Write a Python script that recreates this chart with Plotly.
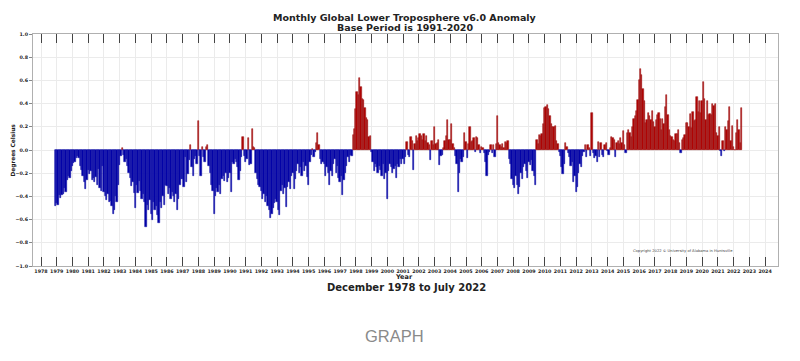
import plotly.graph_objects as go

# Monthly anomalies (deg C), starting December 1978
anom_1978_1989 = [
    -0.48,
    -0.46, -0.47, -0.39, -0.41, -0.39, -0.38, -0.33, -0.36, -0.26, -0.22, -0.24, -0.18,
    -0.14, -0.11, -0.10, -0.07, -0.05, -0.07, -0.14, -0.17, -0.22, -0.28, -0.34, -0.26,
    -0.17, -0.21, -0.18, -0.26, -0.24, -0.28, -0.23, -0.30, -0.16, -0.33, -0.35, -0.14,
    -0.36, -0.40, -0.43, -0.38, -0.45, -0.44, -0.48, -0.55, -0.52, -0.40, -0.45, -0.30,
    -0.13, -0.05, 0.02, -0.04, -0.10, -0.08, -0.14, -0.20, -0.24, -0.31, -0.28, -0.37,
    -0.50, -0.30, -0.37, -0.27, -0.35, -0.42, -0.38, -0.45, -0.66, -0.47, -0.52, -0.43,
    -0.55, -0.60, -0.45, -0.52, -0.48, -0.56, -0.63, -0.45, -0.50, -0.40, -0.47, -0.30,
    -0.31, -0.38, -0.33, -0.42, -0.36, -0.40, -0.45, -0.38, -0.52, -0.42, -0.30, -0.25,
    -0.25, -0.32, -0.06, -0.28, -0.21, -0.09, 0.04, -0.15, -0.22, -0.08, -0.05, -0.12,
    0.25, -0.05, -0.22, 0.03, -0.06, -0.10, 0.03, 0.04, -0.14, -0.20, -0.30, -0.35,
    -0.55, -0.40, -0.33, -0.36, -0.30, -0.38, -0.25, -0.22, -0.27, -0.20, -0.28, -0.24,
]
anom_1990_1999 = [
    -0.20, -0.36, -0.10, -0.12, -0.08, -0.10, -0.15, -0.26, -0.18, -0.06, 0.11, -0.05,
    -0.10, -0.08, 0.10, -0.13, -0.12, 0.18, 0.03, 0.02, -0.20, -0.25, -0.30, -0.32,
    -0.35, -0.42, -0.38, -0.45, -0.40, -0.48, -0.52, -0.59, -0.55, -0.50, -0.46, -0.42,
    -0.45, -0.52, -0.56, -0.35, -0.30, -0.38, -0.33, -0.49, -0.32, -0.28, -0.34, -0.22,
    -0.20, -0.34, -0.25, -0.18, -0.12, -0.20, -0.15, -0.22, -0.10, -0.18, -0.14, -0.23,
    -0.30, -0.10, -0.04, 0.01, -0.06, -0.02, 0.06, 0.15, 0.04, -0.08, -0.12, -0.10,
    -0.12, -0.22, -0.15, -0.20, -0.30, -0.18, -0.22, -0.12, -0.08, -0.20, -0.14, -0.24,
    -0.28, -0.22, -0.39, -0.26, -0.20, -0.14, -0.06, -0.10, -0.04, -0.05, 0.13, 0.18,
    0.35, 0.50, 0.47, 0.62, 0.54, 0.44, 0.43, 0.36, 0.28, 0.26, 0.11, 0.12,
    -0.02, -0.10, -0.18, -0.12, -0.15, -0.20, -0.14, -0.17, -0.22, -0.12, -0.25, -0.20,
]
anom_2000_2009 = [
    -0.42, -0.18, -0.12, -0.15, -0.20, -0.16, -0.14, -0.24, -0.12, -0.15, -0.08, -0.12,
    -0.08, -0.12, -0.06, 0.07, -0.04, -0.06, 0.11, 0.08, -0.17, 0.05, 0.12, 0.08,
    0.10, 0.14, 0.12, 0.09, 0.14, 0.08, 0.12, 0.06, 0.04, -0.09, 0.08, 0.04,
    0.20, 0.05, 0.06, 0.09, -0.13, -0.05, -0.04, 0.02, 0.08, 0.12, 0.26, 0.09,
    0.09, 0.22, 0.05, 0.02, -0.05, -0.12, -0.36, -0.20, -0.08, -0.10, -0.06, 0.15,
    0.07, -0.07, 0.05, 0.20, 0.07, 0.08, 0.10, -0.02, 0.11, 0.10, 0.04, -0.03,
    0.03, 0.02, -0.03, -0.10, -0.22, -0.04, -0.02, 0.04, -0.03, 0.04, -0.06, 0.05,
    0.29, 0.06, 0.04, 0.03, 0.05, 0.02, 0.07, 0.06, 0.08, -0.08, -0.12, -0.25,
    -0.30, -0.33, -0.22, -0.30, -0.38, -0.32, -0.20, -0.25, -0.15, -0.12, -0.18, -0.24,
    -0.10, -0.13, -0.09, -0.18, -0.22, -0.30, 0.09, 0.05, 0.13, 0.12, 0.14, 0.22,
]
anom_2010_2022 = [
    0.36, 0.37, 0.39, 0.35, 0.29, 0.22, 0.20, 0.20, 0.21, 0.08, 0.05, -0.02,
    -0.05, -0.15, -0.21, -0.12, 0.06, 0.03, -0.03, -0.06, -0.14, -0.10, -0.28, -0.22,
    -0.36, -0.32, -0.20, -0.12, -0.15, -0.05, -0.02, 0.04, -0.06, 0.04, 0.02, -0.05,
    0.32, -0.03, -0.07, -0.05, -0.10, 0.07, -0.06, 0.06, -0.04, -0.06, 0.04, 0.06,
    -0.01, -0.04, 0.02, 0.11, 0.10, 0.09, -0.06, 0.06, 0.08, 0.05, 0.10, 0.06,
    0.16, 0.04, -0.03, 0.15, 0.17, 0.15, 0.11, 0.20, 0.27, 0.29, 0.34, 0.43,
    0.60, 0.70, 0.65, 0.53, 0.42, 0.23, 0.26, 0.32, 0.29, 0.26, 0.34, 0.24,
    0.20, 0.26, 0.30, 0.32, 0.27, 0.17, 0.27, 0.22, 0.37, 0.47, 0.30, 0.17,
    0.12, 0.11, 0.09, 0.08, 0.14, 0.14, 0.17, 0.06, -0.03, 0.09, 0.10, 0.13,
    0.23, 0.23, 0.20, 0.31, 0.19, 0.33, 0.25, 0.26, 0.46, 0.33, 0.42, 0.32,
    0.42, 0.59, 0.44, 0.26, 0.42, 0.30, 0.31, 0.30, 0.40, 0.38, 0.40, 0.15,
    0.12, 0.20, -0.01, -0.05, 0.08, -0.01, 0.20, 0.17, 0.25, 0.37, 0.08, 0.21,
    0.03, 0.00, 0.15, 0.26, 0.17, 0.06, 0.36,
]

start_year = 1978
start_month = 12
year_ticks = list(range(1978, 2025))
y_ticks = [-1.0, -0.8, -0.6, -0.4, -0.2, 0.0, 0.2, 0.4, 0.6, 0.8, 1.0]

values = anom_1978_1989 + anom_1990_1999 + anom_2000_2009 + anom_2010_2022
times = [start_year + (start_month - 1 + i) / 12.0 for i in range(len(values))]
fill = ["#b00000" if v >= 0 else "#0000a8" for v in values]
edge = ["#a02020" if v >= 0 else "#1515a8" for v in values]

fig = go.Figure()
fig.add_trace(go.Bar(
    x=times, y=values, width=1 / 12.0,
    marker=dict(color=fill, line=dict(color=edge, width=0.6)),
    showlegend=False, hoverinfo="x+y",
))

# page offset of the plot div (browser default body margin)
OFF = 8
W, H = 800 - OFF, 361 - OFF
# plot area in page pixels: x 33..778, y 34..266
L, T = 33 - OFF, 34 - OFF
pw, ph = 745, 232
R = W - L - pw
B = H - T - ph


def px(x):
    return (x - OFF - L) / pw


def py(y):
    return (T + ph - (y - OFF)) / ph


fig.update_layout(
    width=W, height=H,
    margin=dict(l=L, r=R, t=T, b=B, autoexpand=False),
    paper_bgcolor="white", plot_bgcolor="white",
    bargap=0,
    font=dict(family="DejaVu Sans", color="#222"),
)
fig.update_xaxes(
    range=[1977.49, 2024.82],
    tickmode="array", tickvals=year_ticks, ticktext=[str(y) for y in year_ticks],
    tickfont=dict(size=4.8, weight="bold", color="#222"), tickangle=0,
    ticks="inside", ticklen=9, tickwidth=1, tickcolor="#444",
    showline=True, linecolor="#b0b0b0", linewidth=1, mirror="ticks",
    showgrid=True, gridcolor="#ebebeb", gridwidth=0.6,
    zeroline=False, automargin=False,
)
fig.update_yaxes(
    range=[-1.0, 1.0],
    tickmode="array", tickvals=y_ticks,
    ticktext=[("\u2212" if v < 0 else "") + f"{abs(v):.1f}" for v in y_ticks],
    tickfont=dict(size=4.8, weight="bold", color="#222"),
    ticks="outside", ticklen=3, tickcolor="#888",
    showline=True, linecolor="#b0b0b0", linewidth=1, mirror=True,
    showgrid=True, gridcolor="#ebebeb", gridwidth=0.6,
    zeroline=False, automargin=False,
)

ann = [
    dict(text="Monthly Global Lower Troposphere v6.0 Anomaly", x=px(405), y=py(17.5),
         font=dict(size=9.5, weight="bold", color="#222")),
    dict(text="Base Period is 1991-2020", x=px(405), y=py(28),
         font=dict(size=9.5, weight="bold", color="#222")),
    dict(text="Year", x=px(404), y=py(276.5), font=dict(size=6.5, weight="bold", color="#222")),
    dict(text="December 1978 to July 2022", x=px(406), y=py(287),
         font=dict(size=10, weight="bold", color="#222")),
    dict(text="Degrees Celsius", x=px(12.5), y=py(150), textangle=-90,
         font=dict(size=5.8, weight="bold", color="#222")),
    dict(text="Copyright 2022 \u00a9 University of Alabama in Huntsville", x=px(683), y=py(251),
         font=dict(size=3.7, color="#444")),
    dict(text="GRAPH", x=px(394), y=py(336), font=dict(size=16.5, family="Liberation Sans", color="#8a8a8a")),
]
for a in ann:
    fig.add_annotation(xref="paper", yref="paper", showarrow=False,
                       xanchor="center", yanchor="middle", **a)

fig.write_html("out.html")
